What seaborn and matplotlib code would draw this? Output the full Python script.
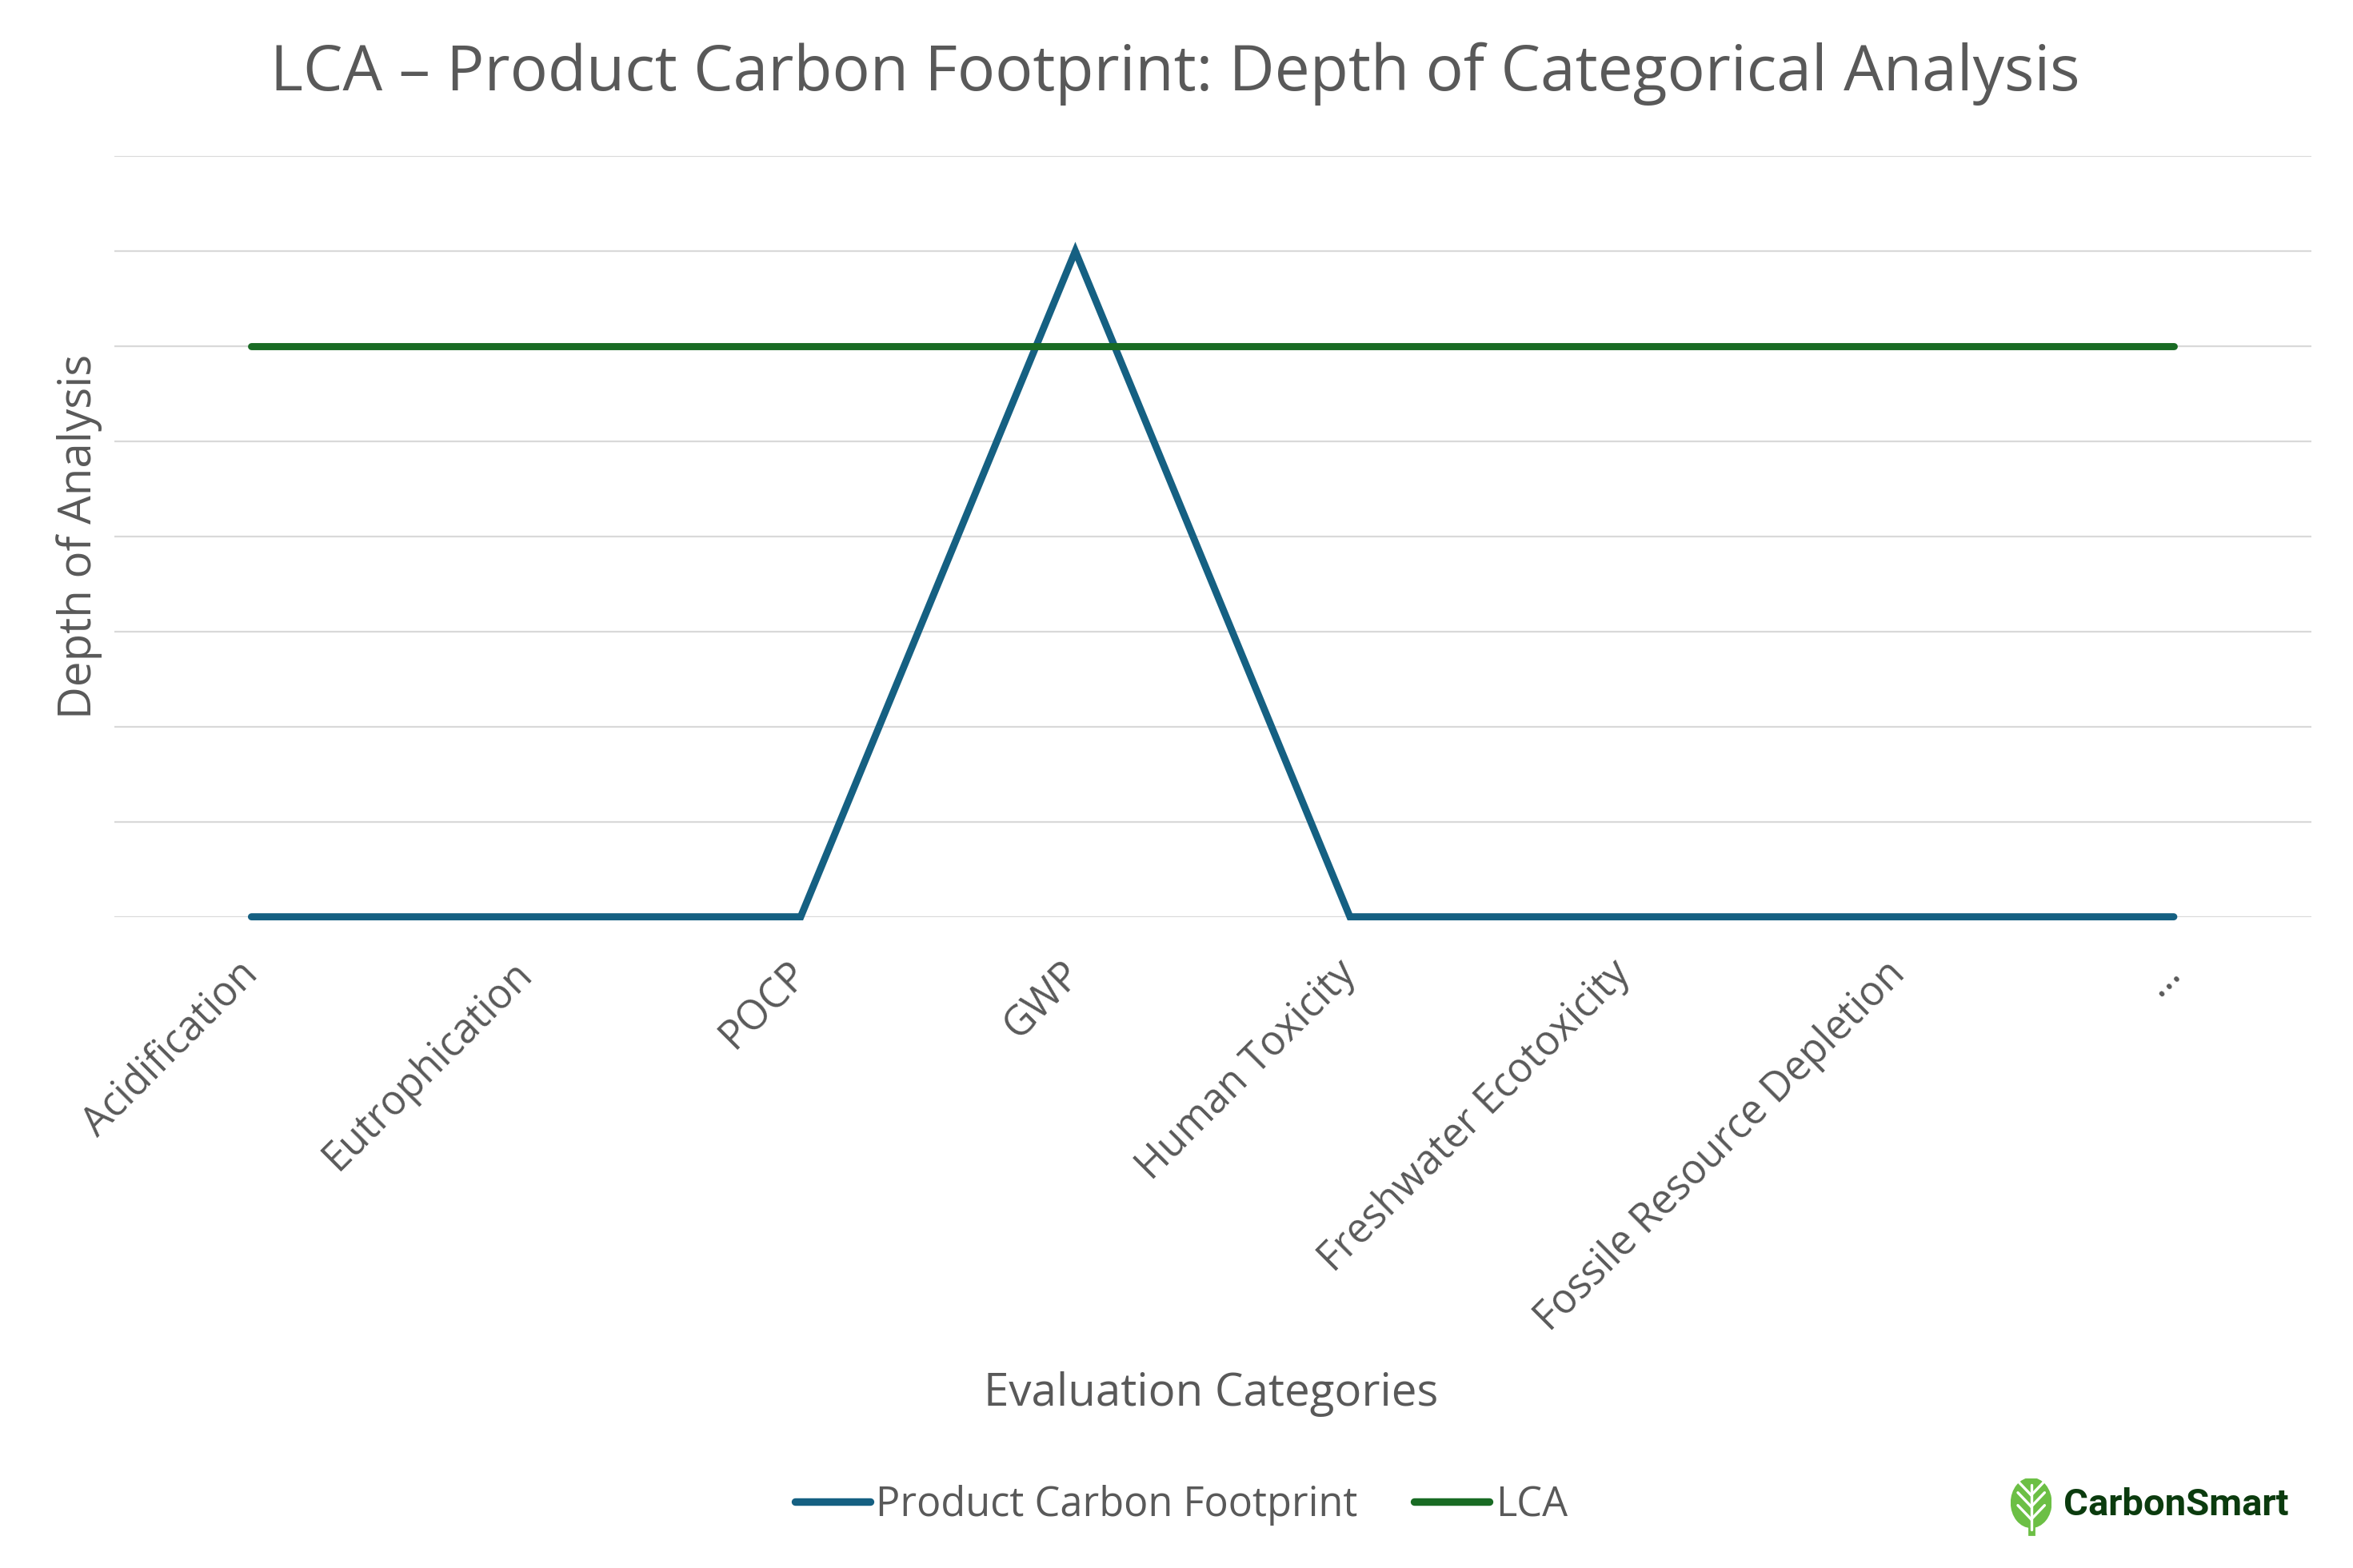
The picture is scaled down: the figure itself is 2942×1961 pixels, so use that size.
import pandas as pd
import matplotlib.pyplot as plt
import seaborn as sns
from matplotlib.patches import Ellipse, Polygon

# Data
categories = ['Acidification', 'Eutrophication', 'POCP', 'GWP', 'Human Toxicity',
              'Freshwater Ecotoxicity', 'Fossile Resource Depletion', '…']
pcf_depth = [0, 0, 0, 7, 0, 0, 0, 0]
lca_depth = [6, 6, 6, 6, 6, 6, 6, 6]
series_names = ['Product Carbon Footprint', 'LCA']
series_colors = ['#156082', '#196B24']

TEXT = '#595959'

sns.set_theme(style='white')
plt.rcParams['font.family'] = ['Open Sans', 'DejaVu Sans']

# Long-form table for seaborn
df = pd.DataFrame({
    'category': categories * 2,
    'depth': pcf_depth + lca_depth,
    'series': [series_names[0]] * len(categories) + [series_names[1]] * len(categories),
})

fig = plt.figure(figsize=(14.71, 9.805), dpi=200)
ax = fig.add_axes([0.0485, 0.4153, 0.9337, 0.4852])

sns.lineplot(data=df, x='category', y='depth', hue='series', hue_order=series_names,
             palette=series_colors, sort=False, linewidth=3.2, legend=False, ax=ax)

for line in ax.get_lines():
    line.set_solid_capstyle('round')
    line.set_solid_joinstyle('miter')
    line.set_clip_on(False)

# Axes styling
ax.set_xlim(-0.5, len(categories) - 0.5)
ax.set_ylim(0, 8)
ax.set_yticks(range(0, 9))
ax.set_yticklabels([])
ax.grid(axis='y', color='#d9d9d9', linewidth=0.8)
ax.set_axisbelow(True)
for s in ax.spines.values():
    s.set_visible(False)
ax.tick_params(axis='both', length=0)
ax.tick_params(axis='x', pad=23, labelsize=18.2, labelcolor=TEXT)
plt.setp(ax.get_xticklabels(), rotation=45, ha='right', va='center', rotation_mode='anchor')
ax.set_xlabel('')
ax.set_ylabel('')

# Titles
fig.text(0.4994, 0.953, 'LCA – Product Carbon Footprint: Depth of Categorical Analysis',
         ha='center', va='center', fontsize=28.3, color=TEXT)
fig.text(0.0338, 0.6579, 'Depth of Analysis', rotation=90, ha='center', va='center',
         fontsize=20.3, color=TEXT)
fig.text(0.5147, 0.111, 'Evaluation Categories', ha='center', va='center',
         fontsize=20.3, color=TEXT)

# Legend below
handles = ax.get_lines()[:2]
leg = fig.legend(handles, series_names, loc='center', bbox_to_anchor=(0.502, 0.040),
                 ncol=2, frameon=False, fontsize=18.2, handlelength=1.86,
                 handletextpad=0.15, columnspacing=1.4)
for t in leg.get_texts():
    t.set_color(TEXT)
for h in leg.legend_handles:
    h.set_linewidth(3.4)
    h.set_solid_capstyle('round')

# CarbonSmart logo
lax = fig.add_axes([0.8545, 0.0205, 0.0175, 0.0365])
lax.set_xlim(-1, 1)
lax.set_ylim(-1.25, 1)
lax.axis('off')
lax.add_patch(Ellipse((0, 0.05), 1.9, 1.9, color='#6cbf45'))
lax.add_patch(Polygon([[-0.12, -0.9], [0.12, -0.9], [0.12, -1.2], [-0.12, -1.2]], color='#6cbf45'))
lax.plot([0, 0], [-1.0, 0.75], color='white', lw=1.2)
for yb in [-0.6, -0.1, 0.35]:
    lax.plot([0, -0.65], [yb, yb + 0.55], color='white', lw=1.2)
    lax.plot([0, 0.65], [yb, yb + 0.55], color='white', lw=1.2)
fig.text(0.877, 0.0405, 'CarbonSmart', ha='left', va='center', fontsize=17,
         fontweight='bold', color='#0b3b0e', family=['Roboto', 'DejaVu Sans'])

fig.savefig('out.png', dpi=200)
